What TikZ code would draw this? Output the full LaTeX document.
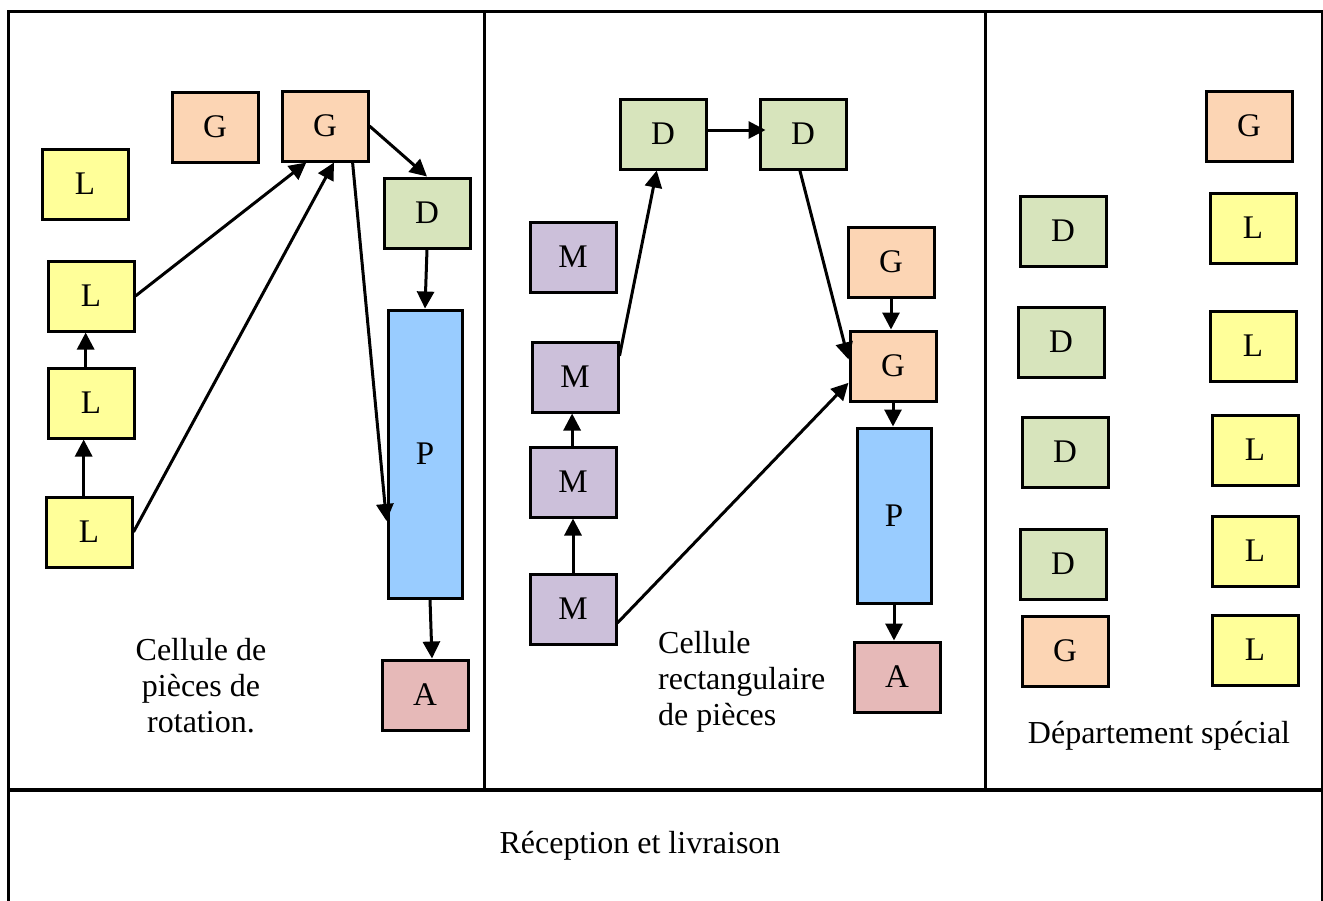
\documentclass[tikz,border=0pt]{standalone}
\usepackage{fontspec}
\setmainfont{Liberation Serif}
\usetikzlibrary{arrows.meta,calc}
\definecolor{gcol}{HTML}{FCD5B4}
\definecolor{lcol}{HTML}{FFFF99}
\definecolor{dcol}{HTML}{D7E4BC}
\definecolor{pcol}{HTML}{99CCFF}
\definecolor{acol}{HTML}{E6B9B8}
\definecolor{mcol}{HTML}{CCC0DA}
\begin{document}
\begin{tikzpicture}[x=1pt,y=-1pt,
  box/.style={draw=black,line width=3pt,minimum width=86pt,minimum height=70pt,inner sep=0pt,
    font=\fontsize{33}{36}\selectfont},
  gbox/.style={box,fill=gcol},
  lbox/.style={box,fill=lcol},
  dbox/.style={box,fill=dcol},
  abox/.style={box,fill=acol},
  mbox/.style={box,fill=mcol},
  pbox/.style={box,fill=pcol,minimum width=74pt},
  flow/.style={line width=3pt,-{Triangle[length=17pt,width=17pt]}},
  lbl/.style={font=\fontsize{32}{36}\selectfont,inner sep=0pt},
  frame/.style={line width=3pt}]
\useasboundingbox (0,0) rectangle (1323,900);
\clip (0,0) rectangle (1323,900);

% zones
\draw[frame] (8,11) rectangle (1322,910);
\draw[frame] (484,11) -- (484,790);
\draw[frame] (985,11) -- (985,790);
\draw[line width=3.8pt] (8,790) -- (1322,790);

% rotating parts cell
\node[gbox] (lg1) at (215,127) {G};
\node[gbox] (lg2) at (325,126) {G};
\node[lbox] (ll0) at (85,184) {L};
\node[dbox] (ld) at (427,213) {D};
\node[lbox] (ll1) at (91,296) {L};
\node[lbox] (ll2) at (91,403) {L};
\node[lbox] (ll3) at (89,532) {L};
\node[pbox,minimum height=288pt] (lp) at (425,454) {P};
\node[abox] (la) at (425,695) {A};
\node[lbl,align=center] (ltxt) at (201,686) {Cellule de\\pièces de\\rotation.};

\coordinate (l3top) at ($(ll3.north west)!0.44!(ll3.north east)$);
\draw[flow] (l3top) -- (l3top |- ll2.south);
\coordinate (l2top) at ($(ll2.north west)!0.44!(ll2.north east)$);
\draw[flow] (l2top) -- (l2top |- ll1.south);
\draw[flow] (ll1.east) -- ($(lg2.south west)!0.29!(lg2.south east)$);
\draw[flow] (ll3.east) -- ($(lg2.south west)!0.6!(lg2.south east)$);
\draw[flow] ($(lg2.south west)!0.81!(lg2.south east)$) -- ($(lp.north west)!0.73!(lp.south west)$);
\draw[flow] (lg2.east) -- (ld.north);
\draw[flow] (ld.south) -- (lp.north);
\draw[flow] ($(lp.south)+(5,0)$) -- ($(la.north)+(7,0)$);

% rectangular parts cell
\node[dbox] (md1) at (663,134) {D};
\node[dbox] (md2) at (803,134) {D};
\node[mbox] (mm0) at (573,257) {M};
\node[gbox] (mg1) at (891,262) {G};
\node[mbox] (mm1) at (575,377) {M};
\node[gbox] (mg2) at (893,366) {G};
\node[mbox] (mm2) at (573,482) {M};
\node[pbox,minimum height=175pt] (mp) at (894,515.5) {P};
\node[mbox] (mm3) at (573,609) {M};
\node[abox] (ma) at (897,677) {A};
\node[lbl,align=left,anchor=west] (mtxt) at (658,682) {Cellule\\rectangulaire\\de pièces};

\draw[flow] (mm3.north) -- (mm2.south);
\coordinate (m2top) at ($(mm2.north west)!0.49!(mm2.north east)$);
\draw[flow] (m2top) -- (m2top |- mm1.south);
\draw[flow] ($(mm1.north east)!0.21!(mm1.south east)$) -- ($(md1.south west)!0.43!(md1.south east)$);
\draw[flow] ($(md1.east)+(0,-4)$) -- ($(md2.west)+(7,-4)$);
\draw[flow] ($(md2.south west)!0.465!(md2.south east)$) -- ($(mg2.north west)!0.41!(mg2.south west)$);
\draw[flow] ($(mm3.north east)!0.69!(mm3.south east)$) -- ($(mg2.north west)!0.73!(mg2.south west)$);
\draw[flow] (mg1.south) -- (mg1.south |- mg2.north);
\draw[flow] (mg2.south) -- (mg2.south |- mp.north);
\draw[flow] (mp.south) -- (mp.south |- ma.north);

% special department
\node[gbox] (sg1) at (1249,126) {G};
\node[dbox] (sd1) at (1063,231) {D};
\node[lbox] (sl1) at (1253,228) {L};
\node[dbox] (sd2) at (1061,342) {D};
\node[lbox] (sl2) at (1253,346) {L};
\node[dbox] (sd3) at (1065,452) {D};
\node[lbox] (sl3) at (1255,450) {L};
\node[dbox] (sd4) at (1063,564) {D};
\node[lbox] (sl4) at (1255,551) {L};
\node[gbox] (sg2) at (1065,651) {G};
\node[lbox] (sl5) at (1255,650) {L};
\node[lbl] (stxt) at (1159,736) {Département spécial};

% receiving and shipping
\node[lbl] (rtxt) at (640,846) {Réception et livraison};
\end{tikzpicture}
\end{document}
